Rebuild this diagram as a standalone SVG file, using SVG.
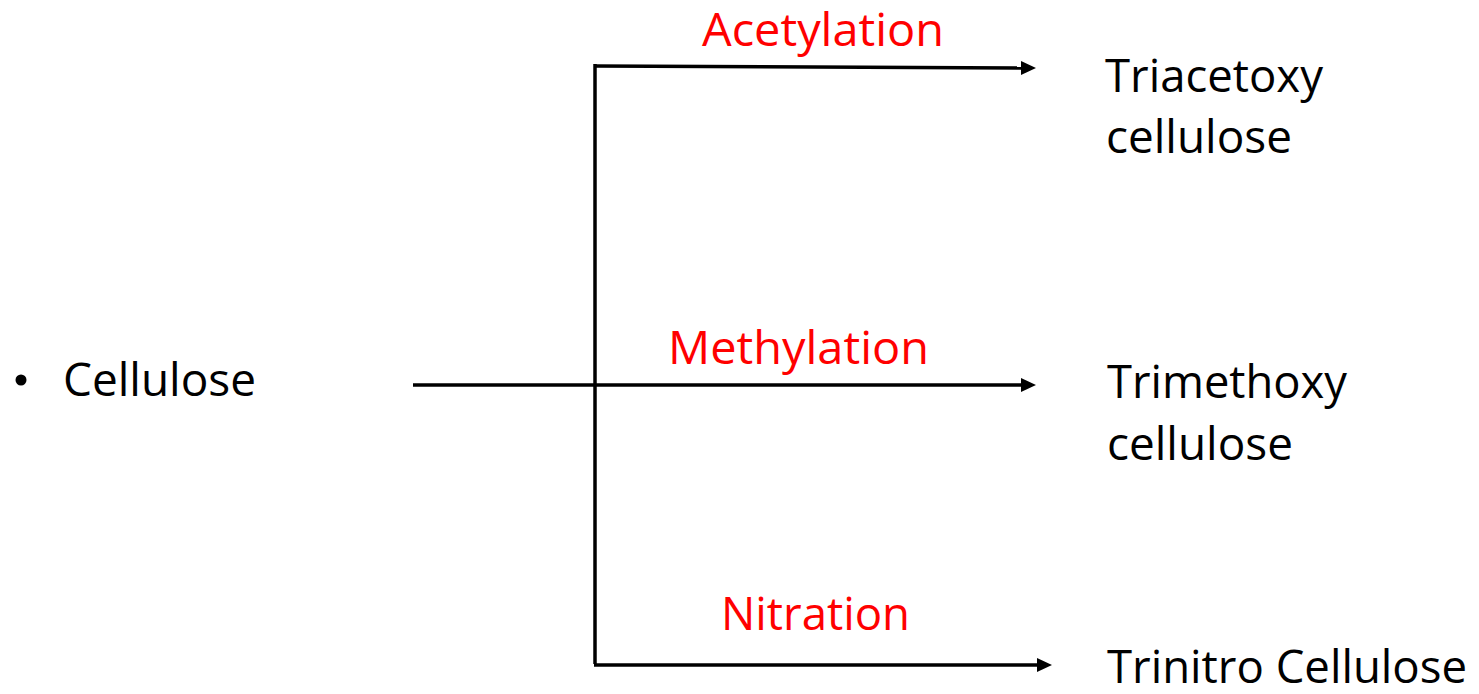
<svg xmlns="http://www.w3.org/2000/svg" width="1479" height="694" viewBox="0 0 1479 694">
  <style>
    .t { font-family: "Open Sans", "Noto Sans", "Liberation Sans", sans-serif; font-size: 46px; fill: #000; }
    .r { fill: #ff0000; }
    .c { stroke: #000; stroke-width: 3.5; fill: none; }
  </style>
  <defs>
    <marker id="ah" markerUnits="userSpaceOnUse" viewBox="0 0 15 14" refX="1" refY="7" markerWidth="15" markerHeight="14" orient="auto">
      <path d="M0,0 L15,7 L0,14 z" fill="#000"/>
    </marker>
  </defs>
  <rect width="1479" height="694" fill="#fff"/>
  <g id="connectors">
    <path class="c" d="M595,64 L595,664"/>
    <path class="c" d="M594,66 L1022,68" marker-end="url(#ah)"/>
    <path class="c" d="M413,385 L1022,385" marker-end="url(#ah)"/>
    <path class="c" d="M594,665 L1038,665" marker-end="url(#ah)"/>
  </g>
  <g id="cellulose">
    <circle cx="21" cy="380" r="5.5" fill="#000"/>
    <text class="t" x="63" y="396" textLength="193" lengthAdjust="spacingAndGlyphs">Cellulose</text>
  </g>
  <g id="label-acetylation">
    <text class="t r" x="702" y="46" textLength="242" lengthAdjust="spacingAndGlyphs">Acetylation</text>
  </g>
  <g id="label-methylation">
    <text class="t r" x="668" y="364" textLength="261" lengthAdjust="spacingAndGlyphs">Methylation</text>
  </g>
  <g id="label-nitration">
    <text class="t r" x="721" y="630" textLength="189" lengthAdjust="spacingAndGlyphs">Nitration</text>
  </g>
  <g id="triacetoxy">
    <text class="t" x="1105" y="92" textLength="218" lengthAdjust="spacingAndGlyphs">Triacetoxy</text>
    <text class="t" x="1106" y="153" textLength="186" lengthAdjust="spacingAndGlyphs">cellulose</text>
  </g>
  <g id="trimethoxy">
    <text class="t" x="1107" y="398" textLength="240" lengthAdjust="spacingAndGlyphs">Trimethoxy</text>
    <text class="t" x="1107" y="460" textLength="186" lengthAdjust="spacingAndGlyphs">cellulose</text>
  </g>
  <g id="trinitro">
    <text class="t" x="1107" y="683" textLength="360" lengthAdjust="spacingAndGlyphs">Trinitro Cellulose</text>
  </g>
</svg>
